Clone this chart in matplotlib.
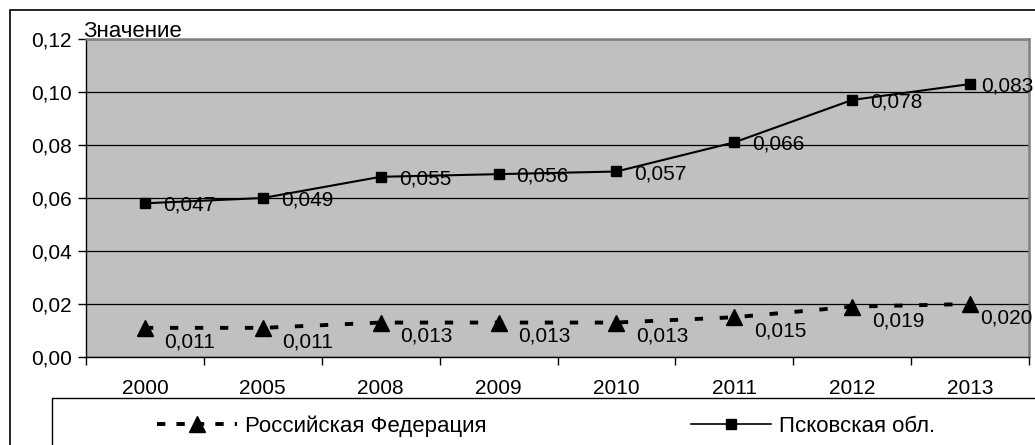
import matplotlib
matplotlib.use("Agg")
import matplotlib.pyplot as plt
from matplotlib.patches import Rectangle
from matplotlib.lines import Line2D

# --- data ---
years = ["2000", "2005", "2008", "2009", "2010", "2011", "2012", "2013"]
rf_values = [0.011, 0.011, 0.013, 0.013, 0.013, 0.015, 0.019, 0.020]
pskov_values = [0.047, 0.049, 0.055, 0.056, 0.057, 0.066, 0.078, 0.083]
rf_name = "Российская Федерация"
pskov_name = "Псковская обл."
y_ticks = [0.00, 0.02, 0.04, 0.06, 0.08, 0.10, 0.12]
y_title = "Значение"

plt.rcParams['font.family'] = ['Liberation Sans', 'DejaVu Sans']
plt.rcParams['lines.scale_dashes'] = False
FS = 15

W, H = 1035, 445
fig = plt.figure(figsize=(W / 100, H / 100), dpi=100)
ax = fig.add_axes([86 / W, 1 - 357 / H, (1029 - 86) / W, (357 - 39) / H])
ax.set_facecolor("#c0c0c0")

x = list(range(len(years)))
# stacked line chart (Excel style): Pskov drawn on top of RF
pskov_stacked = [a + b for a, b in zip(rf_values, pskov_values)]

ax.plot(x, rf_values, color="black", lw=2.8, dashes=(6, 12),
        marker="^", markersize=12, zorder=3)
ax.plot(x, pskov_stacked, color="black", lw=1.5,
        marker="s", markersize=7.5, zorder=3)

def fmt(v):
    return f"{v:.3f}".replace(".", ",")

last = len(years) - 1
for xi, v in zip(x, rf_values):
    dx = 7 if xi == last else 14
    ax.annotate(fmt(v), (xi, v), xytext=(dx, -10), textcoords="offset points",
                ha="left", va="center", fontsize=FS, zorder=4)
for xi, v, lab in zip(x, pskov_stacked, pskov_values):
    dx = 8 if xi == last else 13
    ax.annotate(fmt(lab), (xi, v), xytext=(dx, -1.5), textcoords="offset points",
                ha="left", va="center", fontsize=FS, zorder=4)

# axes
ax.set_xlim(-0.5, len(years) - 0.5)
ax.set_ylim(0, 0.12)
ax.set_yticks(y_ticks)
ax.set_yticklabels([f"{t:.2f}".replace(".", ",") for t in y_ticks], fontsize=FS)
ax.yaxis.grid(True, color="black", lw=0.9)
ax.set_axisbelow(True)

ax.set_xticks([i - 0.5 for i in range(len(years) + 1)])
ax.set_xticklabels([])
ax.set_xticks(x, minor=True)
ax.set_xticklabels(years, minor=True, fontsize=FS)
ax.tick_params(axis="x", which="major", direction="out", length=6, width=1)
ax.tick_params(axis="x", which="minor", length=0, pad=16)
ax.tick_params(axis="y", direction="out", length=6, width=1, pad=4)

for s in ["left", "bottom"]:
    ax.spines[s].set_color("black")
    ax.spines[s].set_linewidth(1)
for s in ["top", "right"]:
    ax.spines[s].set_color("#808080")
    ax.spines[s].set_linewidth(1.8)

ax.text(-3 / 943, 1.006, y_title, transform=ax.transAxes, fontsize=16,
        ha="left", va="baseline")

# outer chart frame and legend box
fig.patches.append(Rectangle((10 / W, -0.2), 1.2, 1.2 - 10 / H,
                             transform=fig.transFigure, fill=False,
                             edgecolor="black", lw=1.2))
fig.patches.append(Rectangle((52 / W, -0.2), 1.2, 0.2 + 1 - 398 / H,
                             transform=fig.transFigure, fill=False,
                             edgecolor="black", lw=1))

handles = [
    Line2D([], [], color="black", lw=2.8, dashes=(6, 8), marker="^", markersize=12),
    Line2D([], [], color="black", lw=1.2, marker="s", markersize=7.5),
]
fig.legend(handles, [rf_name, pskov_name], loc="center left",
           bbox_to_anchor=(157 / W, 1 - 426 / H), ncol=2, frameon=False,
           fontsize=16, handlelength=3.6, handletextpad=0.36,
           columnspacing=9.2, borderaxespad=0, borderpad=0)

fig.savefig("out.png", dpi=100)
